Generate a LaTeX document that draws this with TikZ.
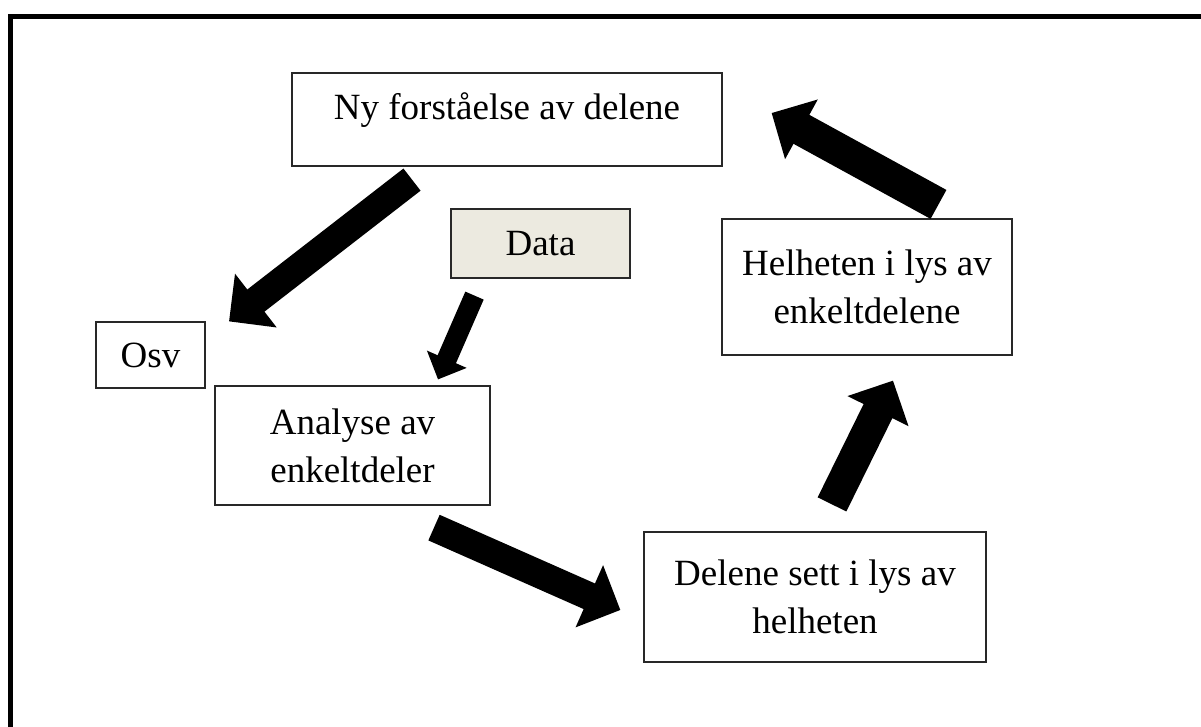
\documentclass[tikz,border=0pt]{standalone}
\usepackage{fontspec}
\setmainfont{Liberation Serif}
\usetikzlibrary{arrows.meta}
\definecolor{databg}{RGB}{236,234,224}
\definecolor{boxline}{RGB}{40,40,40}

\begin{document}
\begin{tikzpicture}[
    x=1pt, y=-1pt,
    font=\fontsize{37}{48}\selectfont,
    box/.style={rectangle,draw=boxline,line width=1.2pt,inner sep=0pt,align=center},
    bigarrow/.style={line width=30pt,-{Triangle[length=34pt,width=66pt]}},
    smallarrow/.style={line width=20pt,-{Triangle[length=22pt,width=42pt]}}
]

\useasboundingbox (0,0) rectangle (1201,726);
\clip (0,0) rectangle (1201,726);

% Frame (cut at right and bottom)
\draw[line width=5pt] (10.5,16.5) rectangle (1300,900);

% Boxes
\node[box,minimum width=430pt,minimum height=93pt,text height=26pt,text depth=27pt] (ny) at (507,119.5) {Ny forståelse av delene};
\node[box,fill=databg,minimum width=179pt,minimum height=69pt] (data) at (540.5,243.5) {Data};
\node[box,minimum width=109pt,minimum height=66pt] (osv) at (150.5,355) {Osv};
\node[box,minimum width=275pt,minimum height=119pt] (analyse) at (352.5,445.5) {Analyse av\\enkeltdeler};
\node[box,minimum width=342pt,minimum height=130pt] (delene) at (815,597) {Delene sett i lys av\\helheten};
\node[box,minimum width=290pt,minimum height=136pt] (helheten) at (867,287) {Helheten i lys av\\enkeltdelene};

% Arrows
\draw[bigarrow,line width=28pt] ([shift={(-95,13)}]ny.south) -- ([shift={(78.5,0)}]osv.north);
\draw[smallarrow] ([shift={(-66,17)}]data.south) -- ([shift={(85.5,-6)}]analyse.north);
\draw[bigarrow,line width=28pt] ([shift={(81.5,22)}]analyse.south) -- ([shift={(-23,13)}]delene.west);
\draw[bigarrow,line width=32pt] ([shift={(17,-27)}]delene.north) -- ([shift={(26,25)}]helheten.south);
\draw[bigarrow,line width=33pt] ([shift={(71.5,-14)}]helheten.north) -- ([shift={(49,-6.5)}]ny.east);

\end{tikzpicture}
\end{document}
